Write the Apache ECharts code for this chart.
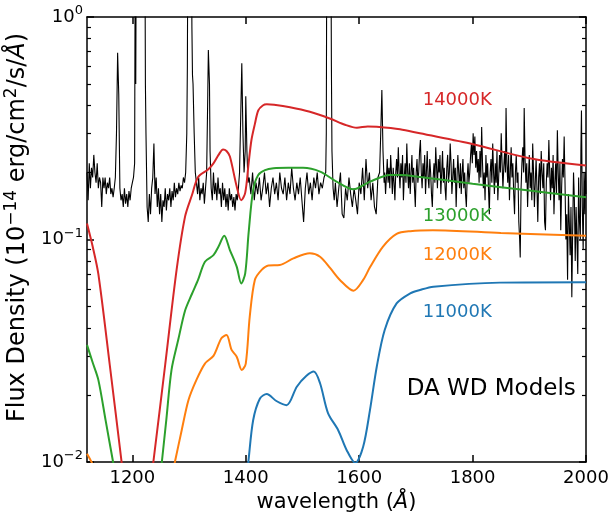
<!DOCTYPE html>
<html><head><meta charset="utf-8">
<script src="https://cdn.jsdelivr.net/npm/echarts@6/dist/echarts.min.js"></script>
<style>html,body{margin:0;padding:0;background:#fff}#c{width:610px;height:514px}</style>
</head><body><div id="c"></div>
<script>
// ---- Data ----
var xTicks = [1200, 1400, 1600, 1800, 2000];

var modelNames = ['11000K', '12000K', '13000K', '14000K'];

var obsSpectrum = [
[1120,0.20],[1122,0.15],[1124,0.22],[1126,0.17],[1128,0.21],[1130,0.19],[1132,0.24],[1134,0.20],[1136,0.18],[1138,0.22],[1140,0.17],[1142,0.19],[1144,0.18],[1146,0.14],[1148,0.19],[1150,0.17],[1152,0.19],[1154,0.16],[1156,0.18],[1158,0.17],[1160,0.19],[1162,0.16],[1164,0.17],[1166,0.155],[1168,0.17],[1170,0.19],[1172,0.30],[1174,0.69],[1176,0.45],[1178,0.17],[1180,0.15],
[1182,0.16],[1184,0.14],[1186,0.17],[1188,0.145],[1190,0.16],[1192,0.14],[1194,0.165],[1196,0.15],[1198,0.17],[1200,0.18],[1202,0.19],[1204,0.22],[1205,2],[1206,0.5],[1207,3],[1214,3],[1222,3],[1223,0.5],[1224,0.3],[1226,0.14],[1228,0.12],[1230,0.16],[1232,0.13],[1234,0.17],[1236,0.19],[1238,0.27],[1240,0.16],[1242,0.19],[1244,0.14],[1246,0.17],[1248,0.13],[1250,0.16],[1252,0.12],[1254,0.15],[1256,0.14],[1258,0.17],[1260,0.135],[1262,0.16],[1264,0.15],[1266,0.17],[1268,0.14],[1270,0.165],[1272,0.15],[1274,0.18],[1276,0.155],[1278,0.17],[1280,0.16],[1282,0.18],[1284,0.165],[1286,0.175],[1288,0.17],[1290,0.19],[1292,0.18],[1294,0.2],[1296,0.3],[1297,0.6],[1298,3],[1304,3],[1305,0.9],[1306,0.55],[1307,0.5],[1309,0.3],[1311,0.2],[1313,0.18],
[1315,0.16],[1317,0.19],[1319,0.15],[1321,0.17],[1323,0.16],[1325,0.18],[1327,0.145],[1329,0.17],[1331,0.2],[1333,0.45],[1334,0.71],[1336,0.5],[1337,0.25],[1339,0.17],
[1341,0.15],[1343,0.2],[1345,0.16],[1347,0.18],[1349,0.15],[1351,0.19],[1353,0.16],[1355,0.17],[1357,0.14],[1359,0.18],[1361,0.15],[1363,0.17],[1365,0.14],[1367,0.16],[1369,0.135],[1371,0.17],[1373,0.15],[1375,0.16],[1377,0.14],[1379,0.155],[1381,0.135],[1383,0.16],[1385,0.15],[1387,0.17],[1389,0.2],[1391,0.35],[1393,0.62],[1395,0.3],[1397,0.2],[1399,0.25],[1400,0.44],[1402,0.25],[1404,0.18],
[1406,0.19],[1409,0.16],[1412,0.2],[1415,0.15],[1418,0.18],[1421,0.16],[1424,0.19],[1427,0.15],[1430,0.17],[1433,0.2],[1436,0.16],[1439,0.18],[1442,0.14],[1445,0.17],[1448,0.19],[1451,0.16],[1454,0.18],[1457,0.15],[1460,0.2],[1463,0.17],[1466,0.16],[1469,0.19],[1472,0.15],[1475,0.18],[1478,0.16],[1481,0.21],[1484,0.17],[1487,0.15],[1490,0.18],[1493,0.16],[1496,0.19],[1499,0.15],[1502,0.12],[1505,0.17],[1508,0.2],[1511,0.16],[1514,0.18],[1517,0.15],[1520,0.19],[1523,0.17],[1526,0.2],[1529,0.16],[1532,0.18],[1535,0.17],[1538,0.19],[1541,0.2],[1542,0.3],[1543,3],[1550,3],[1551,0.6],[1552,0.25],[1554,0.17],
[1556,0.15],[1558,0.18],[1561,0.14],[1564,0.17],[1567,0.2],[1570,0.13],[1573,0.125],[1576,0.17],[1579,0.15],[1582,0.19],[1585,0.16],[1588,0.14],[1591,0.17],[1594,0.15],[1597,0.13],[1600,0.18],[1603,0.16],[1606,0.21],[1609,0.15],[1612,0.23],[1615,0.17],[1618,0.2],[1621,0.15],[1624,0.18],[1627,0.14],[1630,0.13],[1633,0.19],[1636,0.2],[1638,0.3],[1640,0.47],[1642,0.25],[1644,0.18],
[1645,0.2],[1646.5,0.16],[1648,0.19],[1649.5,0.23],[1651,0.18],[1652.5,0.21],[1654,0.17],[1655.5,0.24],[1657,0.2],[1658.5,0.16],[1660,0.21],[1661.5,0.18],[1663,0.15],[1664.5,0.2],[1666,0.23],[1667.5,0.19],[1669,0.26],[1670.5,0.2],[1672,0.17],[1673.5,0.22],[1675,0.19],[1676.5,0.24],[1678,0.15],[1679.5,0.19],[1681,0.22],[1682.5,0.18],[1684,0.27],[1685.5,0.2],[1687,0.17],[1688.5,0.22],[1690,0.16],[1691.5,0.2],[1693,0.24],[1694.5,0.18],[1696,0.21],[1697.5,0.17],[1699,0.14],[1700.5,0.2],
[1702,0.23],[1703.5,0.18],[1705,0.2],[1706.5,0.25],[1708,0.28],[1709.5,0.2],[1711,0.17],[1712.5,0.22],[1714,0.19],[1715.5,0.24],[1717,0.16],[1718.5,0.2],[1720,0.25],[1721.5,0.19],[1723,0.17],[1724.5,0.23],[1726,0.2],[1727.5,0.16],[1729,0.14],[1730.5,0.19],[1732,0.22],[1733.5,0.18],[1735,0.26],[1736.5,0.21],[1738,0.17],[1739.5,0.23],[1741,0.2],[1742.5,0.24],[1744,0.16],[1745.5,0.2],[1747,0.25],[1748.5,0.18],[1750,0.21],
[1751.5,0.17],[1753,0.15],[1754.5,0.21],[1756,0.24],[1757.5,0.18],[1759,0.2],[1760.5,0.27],[1762,0.22],[1763.5,0.16],[1765,0.19],[1766.5,0.23],[1768,0.18],[1769.5,0.21],[1771,0.14],[1772.5,0.19],[1774,0.24],[1775.5,0.2],[1777,0.17],[1778.5,0.22],[1780,0.16],[1781.5,0.2],[1783,0.23],[1784.5,0.17],[1786,0.2],[1787.5,0.16],[1789,0.14],[1790.5,0.19],[1792,0.22],[1793.5,0.18],[1795,0.2],[1796.5,0.24],[1798,0.27],[1799.5,0.22],
[1801,0.3],[1802.5,0.24],[1804,0.29],[1805.5,0.21],[1807,0.25],[1808.5,0.2],[1810,0.23],[1811.5,0.18],[1813,0.25],[1814.5,0.19],[1816,0.32],[1817.5,0.22],[1819,0.17],[1820.5,0.2],[1822,0.15],[1823.5,0.24],[1825,0.19],[1826.5,0.22],[1828,0.17],[1829.5,0.13],[1831,0.2],[1832.5,0.23],[1834,0.18],[1835.5,0.27],[1837,0.2],[1838.5,0.16],[1840,0.22],[1841.5,0.18],[1843,0.25],[1844.5,0.15],[1846,0.19],[1847.5,0.24],[1849,0.2],[1850.5,0.3],
[1852,0.22],[1853.5,0.17],[1855,0.21],[1856.5,0.25],[1858,0.2],[1859,0.39],[1860.5,0.22],[1862,0.18],[1863.5,0.24],[1865,0.15],[1866.5,0.2],[1868,0.26],[1869.5,0.19],[1871,0.22],[1872.5,0.16],[1874,0.13],[1875.5,0.2],[1877,0.24],[1878.5,0.18],[1880,0.2],[1881.5,0.12],[1883,0.1],[1884,0.083],[1885.5,0.17],[1887,0.22],[1888.5,0.26],[1890,0.2],[1891,0.39],[1892.5,0.23],[1894,0.18],[1895.5,0.22],[1897,0.14],[1898.5,0.19],[1900,0.24],
[1901.5,0.17],[1903,0.2],[1904.5,0.15],[1906,0.27],[1907.5,0.2],[1909,0.14],[1910.5,0.18],[1912,0.23],[1913.5,0.17],[1915,0.12],[1916.5,0.19],[1918,0.22],[1919.5,0.16],[1921,0.25],[1922.5,0.2],[1924,0.17],[1925.5,0.22],[1927,0.12],[1928.5,0.11],[1930,0.18],[1931.5,0.22],[1933,0.19],[1934.5,0.28],[1936,0.2],[1937.5,0.15],[1939,0.21],[1940.5,0.17],[1942,0.24],[1943.5,0.13],[1945,0.18],[1946.5,0.22],[1948,0.16],[1949.5,0.31],
[1951,0.2],[1952.5,0.15],[1954,0.22],[1955.5,0.11],[1957,0.17],[1958.5,0.23],[1960,0.19],[1961.5,0.29],[1963,0.18],[1964.5,0.1],[1966,0.13],[1967.5,0.066],[1969,0.16],[1970.5,0.12],[1972,0.085],[1973.5,0.14],[1975,0.055],[1976.5,0.11],[1978,0.2],[1979.5,0.15],[1981,0.08],[1982.5,0.14],[1984,0.1],[1985.5,0.07],[1987,0.19],[1988.5,0.12],[1990,0.1],[1991,0.25],[1992,0.38],[1993.5,0.14],[1995,0.09],[1996.5,0.2],[1998,0.13],[1999,0.2],[2000,0.16]
];

var model11000 = [
[1398,0.0072],[1404.5,0.01],[1413,0.0154],[1425,0.0193],[1437,0.0202],[1454,0.0188],[1472,0.018],[1490,0.0218],[1507,0.0244],[1520,0.0255],[1531,0.0226],[1545,0.0166],[1563,0.0139],[1578,0.0113],[1593,0.0099],[1607,0.0117],[1619,0.0171],[1631,0.0268],[1645,0.0392],[1666,0.0516],[1690,0.0573],[1707,0.0593],[1731,0.0614],[1848,0.064],[2000,0.0643]
];
var model12000 = [
[1120,0.0109],[1128,0.01],[1140,0.0085],[1268,0.0083],[1275,0.01],[1287,0.0139],[1299,0.019],[1313,0.0234],[1328,0.0277],[1343,0.030],[1357,0.036],[1366,0.0372],[1375,0.0319],[1384,0.0297],[1393,0.0259],[1400,0.0277],[1407,0.045],[1416,0.0658],[1428,0.073],[1440,0.0765],[1460,0.0768],[1484,0.0823],[1513,0.0867],[1531,0.0837],[1549,0.0743],[1566,0.0658],[1590,0.0589],[1607,0.0658],[1619,0.075],[1642,0.0929],[1666,0.106],[1690,0.109],[1730,0.110],[1850,0.107],[2000,0.104]
];
var model13000 = [
[1120,0.0336],[1130,0.028],[1140,0.0234],[1153,0.0153],[1166,0.01],[1178,0.0068],[1245,0.0068],[1252,0.01],[1260,0.0156],[1269,0.0259],[1281,0.0355],[1293,0.048],[1305,0.0569],[1316,0.066],[1328,0.0795],[1343,0.085],[1352,0.093],[1362,0.104],[1372,0.0897],[1384,0.0755],[1392,0.0635],[1399,0.0705],[1405,0.107],[1413,0.167],[1422,0.195],[1434,0.205],[1449,0.209],[1475,0.21],[1501,0.21],[1531,0.202],[1560,0.182],[1590,0.168],[1619,0.182],[1654,0.195],[1672,0.195],[1707,0.191],[1800,0.178],[1900,0.166],[2000,0.155]
];
var model14000 = [
[1120,0.118],[1130,0.093],[1140,0.07],[1160,0.0275],[1181,0.01],[1195,0.005],[1222,0.005],[1237,0.01],[1258,0.0275],[1278,0.073],[1293,0.127],[1305,0.158],[1316,0.191],[1334,0.207],[1343,0.22],[1352,0.24],[1360,0.254],[1366,0.25],[1372,0.236],[1384,0.173],[1392,0.15],[1399,0.162],[1405,0.22],[1410,0.28],[1416,0.33],[1422,0.38],[1430,0.40],[1437,0.405],[1450,0.403],[1478,0.393],[1513,0.375],[1548,0.35],[1575,0.328],[1596,0.318],[1615,0.322],[1631,0.321],[1672,0.313],[1707,0.30],[1801,0.268],[1900,0.232],[2000,0.215]
];

// ---- Styling / layout (kept separate from data) ----
var modelColors = ['#1f77b4', '#ff7f0e', '#2ca02c', '#d62728'];
var modelData = [model11000, model12000, model13000, model14000];
var labelAnchors = [[1712, 0.0472], [1712, 0.0851], [1712, 0.1266], [1712, 0.424]];
var titleAnchor = [1982, 0.0213];

var FONT = 'DejaVu Sans';
function logLabel(v) {
  var e = Math.round(Math.log10(v));
  return '10{sup|' + (e < 0 ? '\u2212' + (-e) : e) + '}';
}

var chart = echarts.init(document.getElementById('c'), null, {renderer: 'canvas'});
var tickStyle = {color: '#000', width: 1.5};
var minorTickStyle = {color: '#000', width: 1.2};
var axisLineStyle = {color: '#000', width: 1.5};

var series = [{
  type: 'line', name: 'obs', data: obsSpectrum, showSymbol: false, symbol: 'none',
  lineStyle: {color: '#000', width: 1.1}, clip: true, z: 2, silent: true
}];
modelData.forEach(function (d, i) {
  series.push({
    type: 'line', name: modelNames[i], data: d, showSymbol: false, symbol: 'none', smooth: 0.3,
    lineStyle: {color: modelColors[i], width: 2}, clip: true, z: 3, silent: true
  });
});
series.push({
  type: 'scatter', symbolSize: 0, silent: true, z: 5,
  data: labelAnchors.map(function (p, i) {
    return {value: p, label: {show: true, formatter: modelNames[i], color: modelColors[i]}};
  }).concat([{value: titleAnchor, label: {show: true, formatter: 'DA WD Models', color: '#000', fontSize: 23, align: 'right'}}]),
  label: {show: true, position: 'inside', align: 'left', verticalAlign: 'middle', fontSize: 18, fontFamily: FONT,
          textBorderWidth: 0, textBorderColor: 'transparent', opacity: 1}
});

function logAxis(pos, withLabels) {
  var ax = {
    type: 'log', logBase: 10, min: 0.01, max: 1, position: pos,
    axisLine: {show: true, lineStyle: axisLineStyle},
    axisTick: {show: true, inside: true, length: 7, lineStyle: tickStyle},
    minorTick: {show: true, splitNumber: 9, length: 4, lineStyle: minorTickStyle},
    axisLabel: {show: !!withLabels}, splitLine: {show: false}, minorSplitLine: {show: false}
  };
  if (withLabels) {
    ax.axisLabel = {show: true, formatter: logLabel, color: '#000', fontSize: 18, fontFamily: FONT, margin: 4,
      rich: {sup: {fontSize: 13, fontFamily: FONT, color: '#000', padding: [0, 0, 12, 0]}}};
    ax.name = 'Flux Density (10{sup|\u221214} erg/cm{sup|2}/s/{it|\u00C5})';
    ax.nameLocation = 'middle';
    ax.nameGap = 50;
    ax.nameTextStyle = {fontSize: 24, fontFamily: FONT, color: '#000', padding: [0, 0, 0, 24], rich: {
      sup: {fontSize: 17, fontFamily: FONT, color: '#000', padding: [0, 0, 13, 0]},
      it: {fontStyle: 'italic', fontSize: 24, fontFamily: FONT, color: '#000'}
    }};
  }
  return ax;
}

chart.setOption({
  animation: false,
  backgroundColor: '#fff',
  grid: {left: 87, right: 24, top: 17, bottom: 52, containLabel: false, outerBoundsMode: 'none'},
  xAxis: [{
    type: 'value', min: 1120, max: 2000, position: 'bottom',
    axisLine: {show: true, lineStyle: axisLineStyle},
    axisTick: {show: true, inside: true, length: 7, lineStyle: tickStyle, customValues: xTicks},
    axisLabel: {show: true, customValues: xTicks, formatter: function (v) { return String(v); }, color: '#000', fontSize: 18, fontFamily: FONT, margin: 7},
    splitLine: {show: false},
    name: 'wavelength ({it|\u00C5})', nameLocation: 'middle', nameGap: 27,
    nameTextStyle: {fontSize: 21, fontFamily: FONT, color: '#000', rich: {it: {fontStyle: 'italic', fontSize: 21, fontFamily: FONT, color: '#000'}}}
  }, {
    type: 'value', min: 1120, max: 2000, position: 'top',
    axisLine: {show: true, lineStyle: axisLineStyle},
    axisTick: {show: true, inside: true, length: 7, lineStyle: tickStyle, customValues: xTicks},
    axisLabel: {show: false}, splitLine: {show: false}
  }],
  yAxis: [logAxis('left', true), logAxis('right', false)],
  series: series
});
</script>
</body></html>
